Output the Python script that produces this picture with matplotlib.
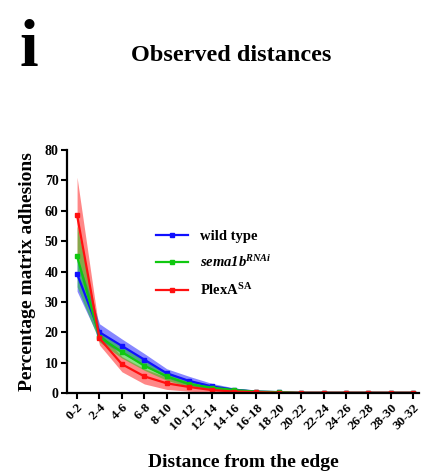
import matplotlib.pyplot as plt

plt.rcParams['font.family'] = ['Liberation Serif', 'DejaVu Serif']
plt.rcParams['font.weight'] = 'bold'
plt.rcParams['mathtext.fontset'] = 'custom'
plt.rcParams['mathtext.rm'] = 'Liberation Serif:bold'
plt.rcParams['mathtext.it'] = 'Liberation Serif:bold:italic'
plt.rcParams['mathtext.bf'] = 'Liberation Serif:bold'

bins = ['0-2', '2-4', '4-6', '6-8', '8-10', '10-12', '12-14', '14-16', '16-18',
        '18-20', '20-22', '22-24', '24-26', '26-28', '28-30', '30-32']

wt = [39.2, 20.0, 15.5, 11.0, 6.5, 4.0, 2.2, 1.1, 0.5, 0.3, 0.1, 0.1, 0.1, 0.1, 0.1, 0.1]
wt_lo = [33.5, 17.5, 13.0, 9.0, 5.0, 2.6, 1.2, 0.5, 0.2, 0.1, 0.0, 0.0, 0.0, 0.0, 0.0, 0.0]
wt_hi = [45.0, 22.8, 17.8, 13.0, 8.0, 5.5, 3.2, 1.7, 0.8, 0.5, 0.2, 0.2, 0.2, 0.2, 0.2, 0.2]

sema = [45.0, 18.5, 13.5, 9.0, 5.5, 3.0, 1.8, 1.0, 0.5, 0.3, 0.1, 0.1, 0.1, 0.1, 0.1, 0.1]
sema_lo = [35.0, 16.8, 11.5, 7.5, 4.2, 2.0, 1.0, 0.5, 0.2, 0.1, 0.0, 0.0, 0.0, 0.0, 0.0, 0.0]
sema_hi = [55.0, 20.5, 15.5, 10.8, 7.0, 4.2, 2.8, 1.6, 0.9, 0.5, 0.2, 0.2, 0.2, 0.2, 0.2, 0.2]

plexa = [58.5, 18.0, 9.5, 5.5, 3.2, 2.0, 1.0, 0.5, 0.3, 0.1, 0.1, 0.1, 0.1, 0.1, 0.1, 0.1]
plexa_lo = [46.0, 15.8, 7.0, 3.0, 1.2, 0.6, 0.2, 0.1, 0.0, 0.0, 0.0, 0.0, 0.0, 0.0, 0.0, 0.0]
plexa_hi = [71.0, 20.0, 12.0, 8.0, 5.2, 3.4, 1.8, 0.9, 0.6, 0.3, 0.2, 0.2, 0.2, 0.2, 0.2, 0.2]

fig = plt.figure(figsize=(4.24, 4.73), dpi=100)
ax = fig.add_axes([0.158, 0.169, 0.83, 0.514])

x = range(len(bins))
series = [
    (plexa, plexa_lo, plexa_hi, '#ff1010', r'PlexA$^{\mathrm{SA}}$'),
    (wt, wt_lo, wt_hi, '#1010ff', 'wild type'),
    (sema, sema_lo, sema_hi, '#10c810', r'sema1b$^{\mathit{RNAi}}$'),
]
for mean, lo, hi, c, lab in series:
    ax.fill_between(x, lo, hi, color=c, alpha=0.5, linewidth=0)
for mean, lo, hi, c, lab in [series[1], series[2], series[0]]:
    ax.plot(x, mean, color=c, lw=1.6, marker='s', ms=3, label=lab)

ax.set_xlim(-0.45, 15.25)
ax.set_ylim(0, 80)
ax.set_yticks(range(0, 81, 10))
ax.set_xticks(list(x))
ax.set_xticklabels(bins, rotation=45, ha='right', rotation_mode='anchor', fontsize=9.5)
ax.tick_params(axis='y', labelsize=10, width=1.5, length=4, pad=2)
ax.tick_params(axis='x', width=1.5, length=4, pad=2)
for s in ['top', 'right']:
    ax.spines[s].set_visible(False)
for s in ['left', 'bottom']:
    ax.spines[s].set_linewidth(1.6)

ax.set_ylabel('Percentage matrix adhesions', fontsize=14, fontweight='bold', labelpad=6)
ax.set_xlabel('Distance from the edge', fontsize=14, fontweight='bold', labelpad=16)

leg = ax.legend(loc='upper left', bbox_to_anchor=(0.215, 0.725), frameon=False,
                prop={'size': 10.5, 'weight': 'bold'}, handlelength=2.2, labelspacing=0.78)
leg.get_texts()[1].set_fontstyle('italic')

fig.text(0.045, 0.86, 'i', fontsize=48, fontweight='bold')
fig.text(0.545, 0.87, 'Observed distances', fontsize=17.5, fontweight='bold', ha='center')

fig.savefig('out.png', dpi=100)
